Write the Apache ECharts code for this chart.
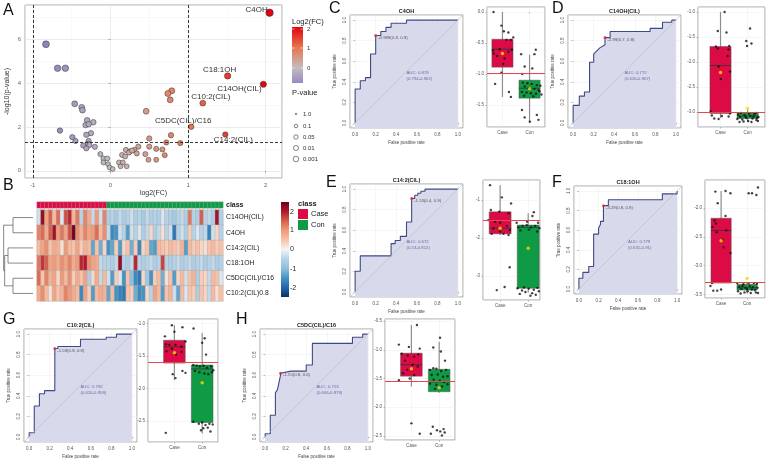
<!DOCTYPE html>
<html>
<head>
<meta charset="utf-8">
<script src="https://cdn.jsdelivr.net/npm/echarts@6.0.0/dist/echarts.min.js"></script>
<style>
html,body{margin:0;padding:0;background:#fff;}
#chart{width:767px;height:461px;}
</style>
</head>
<body>
<div id="chart"></div>
<script>
// ---------- A: volcano ----------
var markerNames = ['C4OH', 'C18:1OH', 'C14OH(CIL)', 'C10:2(CIL)', 'C5DC(CIL)/C16', 'C14:2(CIL)'];
var markerFC = [2.05, 1.51, 1.97, 1.19, 1.04, 1.48];
var markerLogP = [7.2, 4.32, 3.94, 3.08, 2.0, 1.65];
var otherFC = [-0.83, -0.68, -0.58, 0.79, 0.74, 0.77, -0.46, -0.37, -0.36, 0.46, -0.30, -0.22, -0.32, -0.28, -0.65, -0.25,
  -0.31, 0.78, -0.49, -0.45, 0.50, 0.90, 0.72, -0.28, -0.29, -0.27, -0.35, -0.20, -0.31, 0.36, 0.50, 0.20, 0.25, 0.31,
  0.59, 0.67, 0.45, -0.13, 0.34, 0.15, 0.70, 0.19, 0.49, 0.59, -0.09, -0.04, -0.09, 0.11, 0.16, 0.21, -0.03, -0.01, 0.03,
  0.13, 0.24, 0.28];
var otherLogP = [5.76, 4.67, 4.67, 3.64, 3.52, 3.23, 3.05, 2.89, 2.76, 2.71, 2.30, 2.21, 2.08, 2.12, 1.83, 1.71,
  1.64, 1.62, 1.53, 1.36, 1.47, 1.26, 1.29, 1.36, 1.23, 1.17, 1.15, 1.09, 1.02, 1.10, 1.10, 0.95, 0.88, 0.95,
  1.00, 0.97, 0.76, 0.76, 0.79, 0.72, 0.71, 0.65, 0.50, 0.50, 0.56, 0.56, 0.38, 0.38, 0.38, 0.20, 0.30, 0.15, 0.08,
  0.20, 0.83, 0.92];
var fcCut = 1, pCut = 1.301;

// ---------- B: heatmap ----------
var heatRows = ['C14OH(CIL)', 'C4OH', 'C14:2(CIL)', 'C18:1OH', 'C5DC(CIL)/C16', 'C10:2(CIL)0.8'];
var nCase = 18, nCon = 30;
var zC14OH = [-0.3, 2.2, 0.9, 1.5, 0.6, 1.4, -0.2, 1.6, 1.9, 0.7, 1.3, -0.5, 1.2, 0.8, -0.4, 1.0, -0.3, 1.2,
  -0.6, -0.5, -0.7, -0.4, -0.6, -0.5, -0.3, -0.6, -0.5, -0.7, -0.4, -0.6, -0.5, -0.6, -0.2, -0.5, -0.6, -0.7, -0.5, -0.4,
  -0.6, 1.3, -0.5, -0.6, 1.5, -0.5, -0.4, -0.6, 2.1, -0.6];
var zC4OH = [1.2, 1.4, 0.8, 1.5, 2.1, 1.0, 1.3, 0.9, 1.6, 2.4, 1.1, 0.7, 1.2, 0.9, 1.0, 1.4, 0.6, 1.1,
  -0.4, -1.6, -1.5, -0.3, -0.5, -1.4, -0.3, -0.5, -0.2, -0.6, -0.4, 0.3, -0.6, -0.4, 0.2, -0.5, -0.3, -1.8, -0.5, -0.3,
  -0.6, 0.4, -0.5, -0.2, -0.5, -0.4, -1.7, -0.3, 0.3, -0.5];
var zC142 = [0.6, 0.9, 1.1, 0.5, 0.8, 0.7, 0.2, 1.0, 0.6, 0.5, 0.9, 0.4, 0.7, 0.6, -1.3, 0.5, -1.2, 0.3,
  -1.5, -1.3, 0.4, -1.4, 0.3, 0.5, -1.2, 0.4, -1.6, 0.3, 0.5, -1.3, -1.4, 0.6, 0.5, 0.4, 0.6, 0.5, 0.4, 0.7,
  -1.4, 0.6, 0.4, 0.5, 0.3, 0.2, 0.5, 0.6, 0.4, 0.5];
var zC181 = [1.3, 1.8, 1.5, 0.9, 1.0, 0.8, 1.1, 0.9, 1.2, 0.8, 1.0, 1.9, 2.0, 1.1, 0.9, 0.8, -0.4, -0.5,
  -0.5, -0.6, -0.4, 2.2, -0.5, -0.6, -0.4, 1.9, -0.5, -0.6, -0.5, -0.4, -0.6, -0.5, 1.7, -0.5, -0.6, -0.5, -0.4, -0.6,
  -0.5, -0.4, -0.6, -0.5, -0.4, -0.6, -0.5, -0.4, -0.6, -0.5];
var zC5DC = [1.4, 0.5, 1.2, 0.7, 0.9, 0.3, 1.0, 0.6, 1.1, 0.4, 0.8, 0.5, 0.9, -0.6, 0.3, 0.8, -0.4, 0.6,
  -0.3, -1.4, 0.4, -0.2, -1.5, 0.5, -1.0, -1.6, -1.8, 0.3, -0.8, -1.5, 0.4, 0.6, -1.2, 0.2, 0.5, -1.4, 0.3, 0.6,
  -0.3, 0.5, 0.7, -0.6, 0.4, 0.3, -0.4, 0.6, 0.5, -0.2];
var zC102 = [0.8, 1.1, 0.6, 0.2, 0.9, 0.5, 0.7, 1.2, 1.0, 0.8, 0.6, -1.6, 0.9, 0.4, -1.4, 0.6, 0.8, 0.7,
  -1.3, 0.6, -1.5, -1.7, -1.8, 0.5, 0.4, -1.2, -1.6, -1.5, 0.3, -0.5, 0.9, 0.6, -1.4, 0.5, 0.7, -0.3, -1.3, 0.6,
  -0.2, 0.5, 0.4, -0.6, 0.5, 0.3, -0.4, 0.6, 0.2, 0.5];
// dendrogram merges: [rowA, heightA, rowB, heightB, mergeHeight]
var dendroMerges = [[0, 0, 1, 0, 60], [2, 0, 3, 0, 75], [4, 0, 5, 0, 60], [2.5, 75, 4.5, 60, 85], [0.5, 60, 3.5, 85, 88]];

// ---------- ROC curves [FPR, TPR] ----------
var rocC = [[0,0],[0,0.33],[0.05,0.33],[0.05,0.41],[0.1,0.41],[0.1,0.44],[0.15,0.44],[0.15,0.67],[0.2,0.67],[0.2,0.85],
  [0.25,0.85],[0.25,0.89],[0.3,0.89],[0.3,0.93],[0.35,0.93],[0.35,0.97],[0.5,0.97],[0.5,1],[1,1]];
var rocD = [[0,0],[0,0.17],[0.06,0.17],[0.06,0.26],[0.11,0.26],[0.11,0.3],[0.16,0.3],[0.16,0.59],[0.2,0.59],[0.2,0.67],
  [0.22,0.69],[0.26,0.73],[0.31,0.76],[0.31,0.83],[0.36,0.83],[0.36,0.89],[0.75,0.89],[0.75,0.92],[0.87,0.92],[0.87,0.98],
  [0.96,0.98],[0.96,1],[1,1]];
var rocE = [[0,0],[0,0.2],[0.05,0.2],[0.05,0.35],[0.35,0.35],[0.35,0.47],[0.39,0.47],[0.39,0.5],[0.44,0.5],[0.44,0.54],
  [0.5,0.54],[0.5,0.68],[0.55,0.68],[0.55,0.91],[0.58,0.91],[0.58,0.94],[0.61,0.94],[0.61,0.96],[0.64,0.96],[0.64,0.98],
  [0.68,0.98],[0.68,1],[1,1]];
var rocF = [[0,0],[0,0.11],[0.04,0.11],[0.04,0.17],[0.1,0.17],[0.1,0.23],[0.15,0.23],[0.15,0.56],[0.2,0.56],[0.2,0.62],
  [0.22,0.66],[0.22,0.69],[0.25,0.69],[0.25,0.85],[0.3,0.85],[0.3,0.91],[0.85,0.91],[0.85,0.97],[1,0.97],[1,1]];
var rocG = [[0,0],[0,0.04],[0.05,0.04],[0.05,0.3],[0.1,0.3],[0.1,0.42],[0.15,0.42],[0.15,0.45],[0.25,0.45],[0.25,0.86],
  [0.28,0.86],[0.28,0.88],[0.5,0.88],[0.5,0.95],[0.75,0.95],[0.75,0.97],[0.85,0.97],[0.85,1],[1,1]];
var rocH = [[0,0],[0,0.03],[0.05,0.03],[0.05,0.21],[0.1,0.21],[0.1,0.43],[0.12,0.46],[0.15,0.6],[0.15,0.62],[0.25,0.64],
  [0.4,0.64],[0.4,0.7],[0.46,0.7],[0.46,0.91],[0.85,0.91],[0.85,0.97],[0.95,0.97],[0.95,1],[1,1]];
var rocTitles = ['C4OH', 'C14OH(CIL)', 'C14:2(CIL)', 'C18:1OH', 'C10:2(CIL)', 'C5DC(CIL)/C16'];
var thrPoints = [[0.2, 0.85], [0.31, 0.83], [0.55, 0.91], [0.25, 0.85], [0.25, 0.86], [0.15, 0.62]];
var thrLabels = ['-0.988(0.8, 0.9)', '-2.99(0.7, 0.8)', '-1.53(0.4, 0.9)', '-3.29(0.8, 0.9)', '-1.59(0.8, 0.8)', '-1.55(0.8, 0.6)'];
var aucLabels = ['AUC: 0.879\n(0.794-0.962)', 'AUC: 0.772\n(0.626-0.907)', 'AUC: 0.672\n(0.53-0.812)',
  'AUC: 0.779\n(0.631-0.91)', 'AUC: 0.792\n(0.626-0.958)', 'AUC: 0.753\n(0.606-0.879)'];

// ---------- box plots: [lowWhisker, q1, median, q3, highWhisker] for Case, Con ----------
var boxC = [[-1.37,-0.89,-0.6,-0.44,0.0],[-1.77,-1.39,-1.23,-1.10,-0.69]];
var boxD = [[-3.12,-3.03,-2.07,-1.69,-1.0],[-3.2,-3.13,-3.08,-3.01,-2.95]];
var boxE = [[-1.92,-1.89,-1.74,-1.31,-0.61],[-3.43,-3.32,-1.72,-1.66,-1.35]];
var boxF = [[-3.3,-3.3,-2.39,-2.18,-1.71],[-3.48,-3.42,-3.38,-3.32,-3.28]];
var boxG = [[-1.87,-1.61,-1.36,-1.26,-1.03],[-2.69,-2.52,-1.70,-1.64,-1.15]];
var boxH = [[-1.64,-1.46,-1.26,-1.06,-0.57],[-1.75,-1.73,-1.56,-1.34,-0.86]];
var meanC = [-0.67,-1.24], meanD = [-2.21,-2.93], meanE = [-1.74,-2.27], meanF = [-2.57,-3.22], meanG = [-1.45,-1.91], meanH = [-1.33,-1.66];
var cutC = -0.99, cutD = -3.0, cutE = -1.53, cutF = -3.29, cutG = -1.59, cutH = -1.55;
// jittered samples [offset, value]
var caseC = [[-0.33,0.0],[-0.04,-0.22],[0.05,-0.31],[0.22,-0.33],[0.4,-0.41],[0.15,-0.45],[0.31,-0.45],[-0.1,-0.6],[-0.33,-0.67],[-0.2,-0.71],
  [0.08,-0.75],[0.22,-0.64],[0.35,-0.61],[0.03,-0.84],[-0.04,-0.98],[-0.27,-1.16],[0.24,-1.29],[0.31,-1.37],[-0.35,-0.62]];
var conC = [[-0.31,-0.68],[0.18,-0.68],[0.23,-0.61],[-0.18,-0.88],[0.1,-0.91],[-0.27,-1.0],[-0.25,-1.14],[-0.08,-1.15],[0.08,-1.16],[0.27,-1.18],
  [0.4,-1.19],[-0.18,-1.2],[-0.03,-1.23],[0.18,-1.24],[0.33,-1.26],[-0.28,-1.29],[-0.11,-1.3],[0.05,-1.31],[0.24,-1.32],[0.44,-1.33],
  [-0.2,-1.35],[0.14,-1.36],[0.37,-1.28],[-0.28,-1.58],[-0.18,-1.7],[0.01,-1.77],[0.27,-1.66],[0.33,-1.74]];
var caseD = [[0.15,-1.0],[-0.1,-1.38],[0.22,-1.41],[0.32,-1.68],[-0.17,-1.69],[-0.1,-1.73],[0.3,-1.75],[-0.07,-2.09],[0.26,-1.88],[0.01,-2.34],
  [0.35,-2.19],[-0.36,-2.99],[-0.23,-3.13],[-0.07,-3.14],[0.05,-3.08],[0.3,-3.09],[0.35,-3.03],[-0.32,-3.07]];
var conD = [[0.09,-1.33],[-0.05,-1.58],[0.14,-1.63],[-0.02,-1.68],[-0.35,-3.05],[-0.28,-3.1],[-0.2,-3.15],[-0.12,-3.06],[-0.05,-3.12],[0.02,-3.18],
  [0.1,-3.08],[0.18,-3.13],[0.25,-3.04],[0.32,-3.16],[0.4,-3.1],[-0.38,-3.14],[-0.25,-3.02],[-0.15,-3.19],[0.05,-3.03],[0.14,-3.2],
  [0.22,-3.09],[0.3,-3.02],[0.38,-3.18],[-0.3,-3.2],[-0.08,-3.09],[0.35,-3.12]];
var caseE = [[-0.36,-0.61],[0.06,-0.93],[0.39,-1.09],[-0.33,-1.26],[-0.03,-1.31],[0.3,-1.35],[-0.42,-1.53],[-0.18,-1.57],[0.0,-1.6],[0.24,-1.68],
  [-0.24,-1.75],[0.35,-1.79],[0.0,-1.83],[-0.3,-1.89],[0.12,-1.89],[0.3,-1.92],[0.34,-2.77],[-0.12,-3.37],[0.16,-3.29]];
var conE = [[0.2,-1.32],[0.15,-1.42],[-0.04,-1.57],[0.35,-1.6],[-0.41,-1.6],[-0.35,-1.72],[-0.2,-1.68],[-0.05,-1.66],[0.1,-1.72],[0.25,-1.68],
  [0.4,-1.74],[-0.28,-1.8],[0.02,-1.78],[0.32,-1.83],[-0.38,-3.32],[-0.22,-3.38],[-0.1,-3.42],[0.02,-3.33],[0.14,-3.45],[0.27,-3.49],
  [0.38,-3.4],[-0.3,-3.47],[0.08,-3.52],[0.2,-3.36],[-0.15,-3.3],[0.33,-3.31]];
var caseF = [[-0.22,-1.72],[0.17,-1.71],[0.36,-1.75],[-0.13,-1.92],[0.17,-2.14],[-0.25,-2.22],[-0.2,-2.27],[-0.33,-2.33],[0.2,-2.39],[-0.17,-2.42],
  [0.05,-2.55],[0.1,-2.68],[0.36,-2.78],[-0.41,-3.35],[-0.3,-3.43],[-0.15,-3.43],[0.0,-3.41],[-0.35,-3.3]];
var conF = [[0.19,-1.75],[0.36,-1.78],[0.42,-1.65],[0.06,-1.75],[-0.38,-3.3],[-0.3,-3.36],[-0.22,-3.4],[-0.14,-3.32],[-0.06,-3.38],[0.02,-3.44],
  [0.1,-3.35],[0.18,-3.41],[0.26,-3.3],[0.34,-3.46],[0.4,-3.38],[-0.35,-3.44],[-0.25,-3.48],[-0.1,-3.46],[0.06,-3.3],[0.14,-3.47],
  [0.22,-3.37],[0.3,-3.42],[0.38,-3.31],[-0.18,-3.35],[0.0,-3.4],[0.42,-3.47]];
var caseG = [[-0.09,-1.03],[0.29,-1.06],[0.0,-1.13],[-0.34,-1.2],[0.4,-1.28],[-0.3,-1.32],[-0.18,-1.33],[0.04,-1.33],[0.25,-1.36],[-0.09,-1.39],
  [-0.29,-1.43],[0.26,-1.44],[0.06,-1.48],[0.29,-1.73],[0.4,-1.76],[-0.06,-1.78],[0.04,-1.84],[-0.31,-2.68]];
var conG = [[-0.31,-1.08],[0.09,-1.23],[0.0,-1.3],[0.14,-1.48],[-0.32,-1.64],[-0.2,-1.65],[-0.08,-1.66],[0.05,-1.65],[0.17,-1.68],[0.32,-1.66],
  [0.4,-1.72],[-0.26,-1.73],[-0.1,-1.75],[0.08,-1.77],[0.22,-1.78],[0.35,-1.75],[-0.32,-2.51],[-0.12,-2.54],[0.0,-2.52],[0.12,-2.56],
  [0.04,-2.61],[0.26,-2.54],[0.38,-2.55],[-0.04,-2.64],[0.2,-2.6],[0.3,-2.66]];
var caseH = [[0.2,-0.57],[-0.45,-0.91],[-0.09,-0.95],[0.3,-0.98],[-0.35,-1.07],[0.25,-1.08],[-0.13,-1.1],[0.1,-1.12],[-0.23,-1.19],[0.04,-1.26],
  [0.23,-1.29],[-0.15,-1.35],[-0.3,-1.41],[0.1,-1.44],[-0.06,-1.5],[-0.45,-1.53],[0.0,-2.28],[0.3,-2.46]];
var conH = [[-0.21,-0.96],[0.03,-0.79],[0.06,-1.03],[0.21,-1.19],[-0.21,-1.32],[-0.33,-1.35],[-0.1,-1.33],[0.07,-1.37],[0.25,-1.35],[-0.27,-1.44],
  [-0.05,-1.43],[0.14,-1.47],[0.3,-1.46],[-0.2,-1.52],[0.02,-1.54],[0.18,-1.56],[-0.33,-1.59],[-0.1,-1.61],[0.1,-1.64],[0.3,-1.6],
  [-0.15,-1.68],[-0.23,-2.34],[-0.08,-2.4],[0.04,-2.42],[0.16,-2.38],[-0.3,-2.46],[0.2,-2.44],[0.1,-2.49]];

// ---------- layout / style ----------
var FONT = '"Liberation Sans", Arial, sans-serif';
var caseColor = '#dc0b45', conColor = '#0f9a45';
var fcColors = ['#8674bd', '#c2bcbf', '#e8774f', '#e3000f'];
var heatColors = ['#053061', '#2166ac', '#4393c3', '#8fbfdc', '#b5d2e7', '#f4f4f4', '#f9c2a8', '#f19a78', '#d6604d', '#b2182b', '#67001f'];
var labelShift = {'C4OH': [-13, -3], 'C18:1OH': [-8, -6], 'C14OH(CIL)': [-24, 5], 'C10:2(CIL)': [8, -6], 'C5DC(CIL)/C16': [-8, -6], 'C14:2(CIL)': [8, 5]};
var rocLayout = [
  {left: 350, top: 15, w: 113, h: 113},
  {left: 568, top: 15, w: 113, h: 113},
  {left: 350, top: 184, w: 113, h: 113},
  {left: 574, top: 186, w: 108, h: 108},
  {left: 24, top: 329, w: 113, h: 113},
  {left: 260, top: 329, w: 113, h: 113}
];
var boxLayout = [
  {left: 487, top: 7, w: 58, h: 120, xMin: 0.43, xMax: 2.57, yMin: -1.855, yMax: 0.08, split: 4, dec: 1},
  {left: 698, top: 7, w: 67, h: 120, xMin: 0.17, xMax: 2.64, yMin: -3.3, yMax: -0.9, split: 5, dec: 1},
  {left: 483, top: 180, w: 57, h: 120, xMin: 0.39, xMax: 2.42, yMin: -3.63, yMax: -0.474, split: 3, dec: 0},
  {left: 705, top: 180, w: 60, h: 118, xMin: 0.38, xMax: 2.69, yMin: -3.557, yMax: -1.52, split: 4, dec: 1},
  {left: 148, top: 319, w: 70, h: 123, xMin: 0.05, xMax: 2.57, yMin: -2.82, yMax: -0.934, split: 4, dec: 1},
  {left: 385, top: 319, w: 70, h: 121, xMin: 0.05, xMax: 2.57, yMin: -2.57, yMax: -0.465, split: 4, dec: 1}
];

var option = {
  animation: false,
  backgroundColor: '#fff',
  textStyle: {fontFamily: FONT},
  grid: [], xAxis: [], yAxis: [], series: [], visualMap: [], graphic: []
};
function addGrid(g) { option.grid.push(g); return option.grid.length - 1; }
function txt(x, y, s, size, extra) {
  var st = {text: s, x: x, y: y, fill: '#222', fontSize: size, fontFamily: FONT, align: 'left', verticalAlign: 'middle',
    textAlign: 'left', textVerticalAlign: 'middle'};
  for (var k in (extra || {})) st[k] = extra[k];
  if (extra && extra.align) st.textAlign = extra.align;
  return {type: 'text', silent: true, z: 100, style: st};
}

// ---- A ----
var gA = addGrid({left: 25, top: 5, width: 257, height: 173, show: true, borderColor: '#a8a8a8', borderWidth: 1, backgroundColor: '#fff'});
option.xAxis.push({gridIndex: gA, type: 'value', min: -1.1, max: 2.21, splitNumber: 4,
  name: 'log2(FC)', nameLocation: 'middle', nameGap: 12, nameTextStyle: {fontSize: 7, color: '#333'},
  axisLine: {show: false}, axisTick: {length: 2, lineStyle: {color: '#777', width: 0.6}},
  axisLabel: {fontSize: 6, color: '#666', margin: 4, showMinLabel: false, showMaxLabel: false},
  splitLine: {lineStyle: {color: '#e4e4e4', width: 0.7}},
  minorTick: {show: false, splitNumber: 2}, minorSplitLine: {show: true, lineStyle: {color: '#f3f3f3', width: 0.5}}});
option.yAxis.push({gridIndex: gA, type: 'value', min: -0.33, max: 7.55, splitNumber: 4,
  name: '-log10(p-value)', nameLocation: 'middle', nameGap: 14, nameRotate: 90, nameTextStyle: {fontSize: 7, color: '#333'},
  axisLine: {show: false}, axisTick: {length: 2, lineStyle: {color: '#777', width: 0.6}},
  axisLabel: {fontSize: 6, color: '#666', margin: 4, showMinLabel: false, showMaxLabel: false},
  splitLine: {lineStyle: {color: '#e4e4e4', width: 0.7}},
  minorTick: {show: false, splitNumber: 2}, minorSplitLine: {show: true, lineStyle: {color: '#f3f3f3', width: 0.5}}});
var volcanoData = [];
for (var i = 0; i < otherFC.length; i++) volcanoData.push({value: [otherFC[i], otherLogP[i]]});
for (var i = 0; i < markerNames.length; i++) {
  volcanoData.push({value: [markerFC[i], markerLogP[i]], name: markerNames[i],
    label: {show: true, formatter: markerNames[i], position: 'inside', offset: labelShift[markerNames[i]], fontSize: 8, color: '#333'}});
}
var sVolcano = option.series.length;
option.series.push({type: 'scatter', xAxisIndex: 0, yAxisIndex: 0, data: volcanoData,
  symbolSize: function (v) { return 4.8 + 0.36 * v[1]; },
  itemStyle: {borderColor: '#333', borderWidth: 0.5, opacity: 1},
  markLine: {silent: true, symbol: 'none', label: {show: false},
    lineStyle: {color: '#222', type: [3, 2], width: 0.9},
    data: [{xAxis: -fcCut}, {xAxis: fcCut}, {yAxis: pCut}]}});
option.visualMap.push({type: 'continuous', show: false, seriesIndex: sVolcano, dimension: 0, min: -1, max: 2, inRange: {color: fcColors}});

// legend for A
option.graphic.push(txt(292, 22, 'Log2(FC)', 7.5));
option.graphic.push({type: 'rect', silent: true, shape: {x: 292, y: 27, width: 11, height: 56},
  style: {fill: {type: 'linear', x: 0, y: 0, x2: 0, y2: 1, colorStops: [
    {offset: 0, color: '#e3000f'}, {offset: 0.37, color: '#e8774f'}, {offset: 0.727, color: '#c2bcbf'}, {offset: 1, color: '#9a89c4'}]}}});
[[29, '2'], [48, '1'], [68, '0']].forEach(function (t) {
  option.graphic.push({type: 'line', silent: true, shape: {x1: 292, y1: t[0], x2: 294.5, y2: t[0]}, style: {stroke: '#fff', lineWidth: 0.6}});
  option.graphic.push({type: 'line', silent: true, shape: {x1: 300.5, y1: t[0], x2: 303, y2: t[0]}, style: {stroke: '#fff', lineWidth: 0.6}});
  option.graphic.push(txt(307, t[0], t[1], 6, {fill: '#333'}));
});
option.graphic.push(txt(292, 93, 'P-value', 7.5));
[[114, 0.8, '1.0'], [126, 1.8, '0.1'], [137, 2.2, '0.05'], [148, 2.5, '0.01'], [159, 2.8, '0.001']].forEach(function (t) {
  option.graphic.push({type: 'circle', silent: true, shape: {cx: 296, cy: t[0], r: t[1]}, style: {fill: '#fff', stroke: '#333', lineWidth: 0.6}});
  option.graphic.push(txt(303, t[0], t[2], 6, {fill: '#333'}));
});

// ---- B ----
var nCol = nCase + nCon;
var heatCols = [];
for (var c = 0; c < nCol; c++) heatCols.push(String(c));
var heatMatrix = [zC14OH, zC4OH, zC142, zC181, zC5DC, zC102];
var heatData = [];
heatMatrix.forEach(function (row, r) { row.forEach(function (v, c) { heatData.push([c, r, v]); }); });
var gB = addGrid({left: 37, top: 210, width: 186, height: 91});
var xB = option.xAxis.push({gridIndex: gB, type: 'category', data: heatCols, show: false}) - 1;
var yB = option.yAxis.push({gridIndex: gB, type: 'category', data: heatRows, inverse: true, position: 'right',
  axisLine: {show: false}, axisTick: {show: false}, axisLabel: {fontSize: 6.8, color: '#222', margin: 3}}) - 1;
var sHeat = option.series.length;
option.series.push({type: 'heatmap', xAxisIndex: xB, yAxisIndex: yB, data: heatData,
  itemStyle: {borderColor: '#a9a9a9', borderWidth: 0.4}, emphasis: {disabled: true}});
option.visualMap.push({type: 'continuous', show: false, seriesIndex: sHeat, dimension: 2, min: -2.5, max: 2.5, inRange: {color: heatColors}});

var classData = [];
for (var c = 0; c < nCol; c++) classData.push([c, 0, c < nCase ? 0 : 1]);
var gCls = addGrid({left: 37, top: 202, width: 186, height: 6});
var xCls = option.xAxis.push({gridIndex: gCls, type: 'category', data: heatCols, show: false}) - 1;
var yCls = option.yAxis.push({gridIndex: gCls, type: 'category', data: ['class'], position: 'right',
  axisLine: {show: false}, axisTick: {show: false}, axisLabel: {fontSize: 7, fontWeight: 'bold', color: '#222', margin: 3}}) - 1;
var sCls = option.series.length;
option.series.push({type: 'heatmap', xAxisIndex: xCls, yAxisIndex: yCls, data: classData,
  itemStyle: {borderColor: '#b5b5b5', borderWidth: 0.3}, emphasis: {disabled: true}});
option.visualMap.push({type: 'piecewise', show: false, seriesIndex: sCls, dimension: 2,
  pieces: [{min: -0.5, max: 0.5, color: caseColor}, {min: 0.5, max: 1.5, color: conColor}]});

var gDen = addGrid({left: 3, top: 210, width: 30, height: 91});
var xDen = option.xAxis.push({gridIndex: gDen, type: 'value', min: 0, max: 90, inverse: true, show: false}) - 1;
var yDen = option.yAxis.push({gridIndex: gDen, type: 'value', min: -0.5, max: 5.5, inverse: true, show: false}) - 1;
option.series.push({type: 'custom', xAxisIndex: xDen, yAxisIndex: yDen, data: dendroMerges, silent: true,
  renderItem: function (params, api) {
    var a0 = api.coord([api.value(1), api.value(0)]), a1 = api.coord([api.value(4), api.value(0)]);
    var b1 = api.coord([api.value(4), api.value(2)]), b0 = api.coord([api.value(3), api.value(2)]);
    return {type: 'polyline', shape: {points: [a0, a1, b1, b0]}, style: {stroke: '#555', lineWidth: 0.7, fill: null}};
  }});

// heatmap legends
option.graphic.push({type: 'rect', silent: true, shape: {x: 281, y: 202, width: 8, height: 95},
  style: {fill: {type: 'linear', x: 0, y: 0, x2: 0, y2: 1, colorStops: heatColors.slice().reverse().map(function (col, k) {
    return {offset: k / (heatColors.length - 1), color: col};
  })}}});
[[212, '2'], [230, '1'], [249, '0'], [269, '-1'], [288, '-2']].forEach(function (t) {
  option.graphic.push(txt(290, t[0], t[1], 7, {fill: '#222'}));
});
option.graphic.push(txt(298, 204, 'class', 7.5, {fontWeight: 'bold'}));
option.graphic.push({type: 'rect', silent: true, shape: {x: 298, y: 209, width: 10, height: 10}, style: {fill: caseColor}});
option.graphic.push({type: 'rect', silent: true, shape: {x: 298, y: 220, width: 10, height: 10}, style: {fill: conColor}});
option.graphic.push(txt(311, 214, 'Case', 7.5));
option.graphic.push(txt(311, 225, 'Con', 7.5));

// ---- ROC panels ----
var rocCurves = [rocC, rocD, rocE, rocF, rocG, rocH];
function addRoc(k) {
  var L = rocLayout[k];
  var gi = addGrid({left: L.left, top: L.top, width: L.w, height: L.h, show: true, borderColor: '#8a8a8a', borderWidth: 0.8, backgroundColor: '#fff'});
  var common = {gridIndex: gi, type: 'value', min: -0.05, max: 1.05, splitNumber: 5, nameLocation: 'middle',
    nameTextStyle: {fontSize: 4.5, color: '#444'}, axisLine: {show: false},
    axisTick: {length: 1.5, lineStyle: {color: '#777', width: 0.5}},
    splitLine: {lineStyle: {color: '#ececec', width: 0.5}}};
  var xa = Object.assign({}, common, {name: 'False positive rate', nameGap: 12,
    axisLabel: {fontSize: 4.5, color: '#555', margin: 4, showMinLabel: false, showMaxLabel: false, formatter: function (v) { return v.toFixed(1); }}});
  var ya = Object.assign({}, common, {name: 'True positive rate', nameGap: 13, nameRotate: 90,
    axisLabel: {fontSize: 4.5, color: '#555', margin: 3, rotate: 90, showMinLabel: false, showMaxLabel: false, formatter: function (v) { return v.toFixed(1); }}});
  var xi = option.xAxis.push(xa) - 1;
  var yi = option.yAxis.push(ya) - 1;
  option.series.push({type: 'line', xAxisIndex: xi, yAxisIndex: yi, data: rocCurves[k], symbol: 'none', z: 2,
    lineStyle: {color: '#3e4a85', width: 1.1}, areaStyle: {color: '#d9d9ec', opacity: 1, origin: 'start'}});
  option.series.push({type: 'line', xAxisIndex: xi, yAxisIndex: yi, data: [[-0.05, -0.05], [1.05, 1.05]], symbol: 'none', z: 3,
    lineStyle: {color: '#b9b9c8', width: 0.6}});
  option.series.push({type: 'scatter', xAxisIndex: xi, yAxisIndex: yi, data: [thrPoints[k]], symbolSize: 3, z: 5,
    itemStyle: {color: '#e8262a'},
    label: {show: true, formatter: thrLabels[k], position: 'right', distance: 1, offset: [0, 2], fontSize: 4.3, color: '#333'}});
  option.series.push({type: 'scatter', xAxisIndex: xi, yAxisIndex: yi, data: [[0.5, 0.455]], symbolSize: 0, z: 5,
    label: {show: true, formatter: aucLabels[k], position: 'right', distance: 0, fontSize: 4.3, lineHeight: 6, color: '#46528c', align: 'left'}});
  option.graphic.push(txt(L.left + L.w / 2, L.top - 3.5, rocTitles[k], 5.5, {fontWeight: 'bold', align: 'center'}));
}
for (var k = 0; k < 6; k++) addRoc(k);

// ---- box panels ----
var boxStats = [boxC, boxD, boxE, boxF, boxG, boxH];
var boxMeans = [meanC, meanD, meanE, meanF, meanG, meanH];
var boxCuts = [cutC, cutD, cutE, cutF, cutG, cutH];
var boxCase = [caseC, caseD, caseE, caseF, caseG, caseH];
var boxCon = [conC, conD, conE, conF, conG, conH];
function addBox(k) {
  var L = boxLayout[k];
  var gi = addGrid({left: L.left, top: L.top, width: L.w, height: L.h, show: true, borderColor: '#8a8a8a', borderWidth: 0.8, backgroundColor: '#fff'});
  var xi = option.xAxis.push({gridIndex: gi, type: 'value', min: L.xMin, max: L.xMax, splitNumber: 2,
    axisLine: {show: false}, axisTick: {length: 1.5, lineStyle: {color: '#777', width: 0.5}},
    axisLabel: {fontSize: 4.5, color: '#555', margin: 3, showMinLabel: false, showMaxLabel: false,
      formatter: function (v) { return v === 1 ? 'Case' : (v === 2 ? 'Con' : ''); }},
    splitLine: {lineStyle: {color: '#ececec', width: 0.5}}}) - 1;
  var yi = option.yAxis.push({gridIndex: gi, type: 'value', min: L.yMin, max: L.yMax, splitNumber: L.split,
    axisLine: {show: false}, axisTick: {length: 1.5, lineStyle: {color: '#777', width: 0.5}},
    axisLabel: {fontSize: 4.5, color: '#555', margin: 3, showMinLabel: false, showMaxLabel: false,
      formatter: function (v) { return v.toFixed(L.dec); }},
    splitLine: {lineStyle: {color: '#ececec', width: 0.5}}}) - 1;
  var st = boxStats[k];
  option.series.push({type: 'custom', xAxisIndex: xi, yAxisIndex: yi, z: 2, silent: true,
    data: [[1].concat(st[0]), [2].concat(st[1])],
    encode: {x: 0, y: [1, 2, 3, 4, 5]},
    renderItem: function (params, api) {
      var x = api.value(0);
      var pLo = api.coord([x, api.value(1)]), pQ1 = api.coord([x, api.value(2)]), pMed = api.coord([x, api.value(3)]);
      var pQ3 = api.coord([x, api.value(4)]), pHi = api.coord([x, api.value(5)]);
      var w = api.size([0.78, 0])[0];
      return {type: 'group', children: [
        {type: 'line', shape: {x1: pLo[0], y1: pLo[1], x2: pHi[0], y2: pHi[1]}, style: {stroke: '#8e8e8e', lineWidth: 1.2}},
        {type: 'rect', shape: {x: pQ1[0] - w / 2, y: pQ3[1], width: w, height: pQ1[1] - pQ3[1]},
          style: {fill: params.dataIndex === 0 ? caseColor : conColor, stroke: '#555', lineWidth: 0.5}},
        {type: 'line', shape: {x1: pMed[0] - w / 2, y1: pMed[1], x2: pMed[0] + w / 2, y2: pMed[1]}, style: {stroke: '#333', lineWidth: 0.8}}
      ]};
    }});
  var pts = boxCase[k].map(function (p) { return [1 + p[0], p[1]]; }).concat(boxCon[k].map(function (p) { return [2 + p[0], p[1]]; }));
  option.series.push({type: 'scatter', xAxisIndex: xi, yAxisIndex: yi, data: pts, symbolSize: 2.4, z: 3,
    itemStyle: {color: '#111'}});
  option.series.push({type: 'scatter', xAxisIndex: xi, yAxisIndex: yi, data: [[1, boxMeans[k][0]], [2, boxMeans[k][1]]],
    symbolSize: 3.5, z: 4, itemStyle: {color: '#ffd400'},
    markLine: {silent: true, symbol: 'none', label: {show: false}, lineStyle: {color: '#e8474c', width: 1, type: 'solid'},
      data: [{yAxis: boxCuts[k]}]}});
}
for (var k = 0; k < 6; k++) addBox(k);

// panel letters
[[3, 11, 'A'], [3, 186, 'B'], [329, 9, 'C'], [552, 9, 'D'], [326, 183, 'E'], [552, 183, 'F'], [3, 320, 'G'], [236, 320, 'H']].forEach(function (t) {
  option.graphic.push(txt(t[0], t[1], t[2], 16, {fill: '#111'}));
});

var chart = echarts.init(document.getElementById('chart'));
chart.setOption(option);
</script>
</body>
</html>
